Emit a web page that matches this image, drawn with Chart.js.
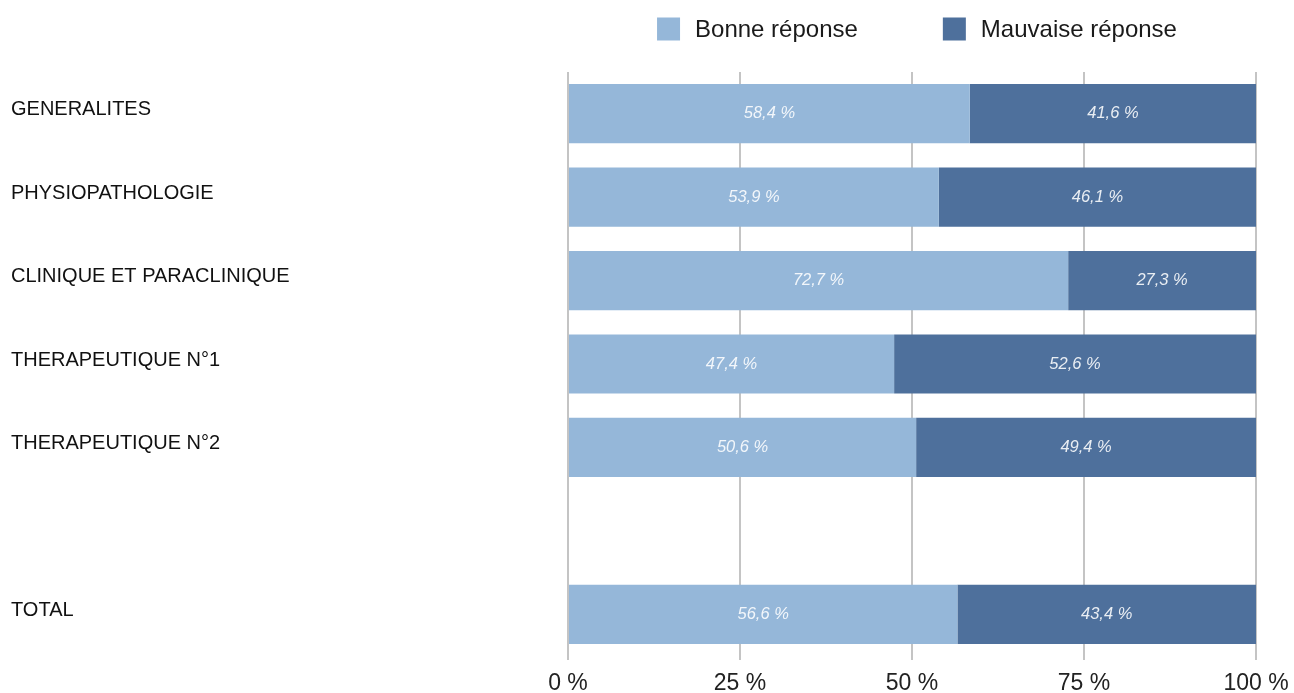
<!DOCTYPE html>
<html>
<head>
<meta charset="utf-8">
<script src="https://cdn.jsdelivr.net/npm/chart.js@4/dist/chart.umd.min.js"></script>
<style>
  html, body { margin: 0; padding: 0; background: #fff; }
  #wrap { width: 1294px; height: 693px; position: relative; }
</style>
</head>
<body>
<div id="wrap"><canvas id="chart"></canvas></div>
<script>
const categories = [
  'GENERALITES',
  'PHYSIOPATHOLOGIE',
  'CLINIQUE ET PARACLINIQUE',
  'THERAPEUTIQUE N°1',
  'THERAPEUTIQUE N°2',
  '',
  'TOTAL'
];
const bonneReponse = [58.4, 53.9, 72.7, 47.4, 50.6, null, 56.6];
const mauvaiseReponse = [41.6, 46.1, 27.3, 52.6, 49.4, null, 43.4];
const seriesNames = ['Bonne réponse', 'Mauvaise réponse'];
const seriesColors = ['#95b7d9', '#4e709c'];
const xTicks = [0, 25, 50, 75, 100];

const FONT = '"Liberation Sans", Arial, Helvetica, sans-serif';

function fmt(v) {
  return v.toFixed(1).replace('.', ',') + ' %';
}

// white italic values inside each bar segment
const valueLabels = {
  id: 'valueLabels',
  afterDatasetsDraw(chart) {
    const ctx = chart.ctx;
    ctx.save();
    ctx.font = 'italic 16.5px ' + FONT;
    ctx.fillStyle = 'rgba(255,255,255,0.88)';
    ctx.textAlign = 'center';
    ctx.textBaseline = 'middle';
    chart.data.datasets.forEach((ds, i) => {
      const meta = chart.getDatasetMeta(i);
      meta.data.forEach((bar, j) => {
        const v = ds.data[j];
        if (v == null) return;
        ctx.fillText(fmt(v), (bar.x + bar.base) / 2, bar.y);
      });
    });
    ctx.restore();
  }
};

// legend above the plot, centred on the plot area
const topLegend = {
  id: 'topLegend',
  afterDraw(chart) {
    const ctx = chart.ctx;
    const area = chart.chartArea;
    ctx.save();
    ctx.font = '24px ' + FONT;
    ctx.textBaseline = 'middle';
    const box = 23, gap = 15, itemGap = 85;
    const widths = seriesNames.map(n => ctx.measureText(n).width);
    const total = widths.reduce((a, w) => a + box + gap + w, 0) + itemGap * (seriesNames.length - 1);
    let x = (area.left + area.right) / 2 + 5 - total / 2;
    const y = 29;
    seriesNames.forEach((name, i) => {
      ctx.fillStyle = seriesColors[i];
      ctx.fillRect(x, y - box / 2, box, box);
      ctx.fillStyle = '#1a1a1a';
      ctx.fillText(name, x + box + gap, y + 1);
      x += box + gap + widths[i] + itemGap;
    });
    ctx.restore();
  }
};

new Chart(document.getElementById('chart'), {
  type: 'bar',
  data: {
    labels: categories,
    datasets: [
      { label: seriesNames[0], data: bonneReponse, backgroundColor: seriesColors[0] },
      { label: seriesNames[1], data: mauvaiseReponse, backgroundColor: seriesColors[1] }
    ]
  },
  options: {
    indexAxis: 'y',
    responsive: true,
    maintainAspectRatio: false,
    animation: false,
    layout: { padding: { top: 72, left: 11, right: 38, bottom: 0 } },
    datasets: { bar: { barPercentage: 0.71, categoryPercentage: 1, borderWidth: 0 } },
    plugins: {
      legend: { display: false },
      tooltip: { enabled: false }
    },
    scales: {
      x: {
        stacked: true,
        min: 0,
        max: 100,
        afterBuildTicks(scale) {
          scale.ticks = xTicks.map(v => ({ value: v }));
        },
        afterFit(scale) {
          scale.height = 37;
          scale.paddingLeft = 0;
          scale.paddingRight = 0;
        },
        grid: { color: '#c4c4c4', lineWidth: 2, tickLength: 4 },
        border: { display: false },
        ticks: {
          padding: 12,
          color: '#222',
          font: { family: FONT, size: 23, lineHeight: 1 },
          callback: v => v + ' %'
        }
      },
      y: {
        stacked: true,
        grid: { display: false },
        border: { display: false },
        afterFit(scale) { scale.width = 557; },
        ticks: {
          crossAlign: 'far',
          labelOffset: -4,
          color: '#111',
          font: { family: FONT, size: 20 }
        }
      }
    }
  },
  plugins: [valueLabels, topLegend]
});
</script>
</body>
</html>
